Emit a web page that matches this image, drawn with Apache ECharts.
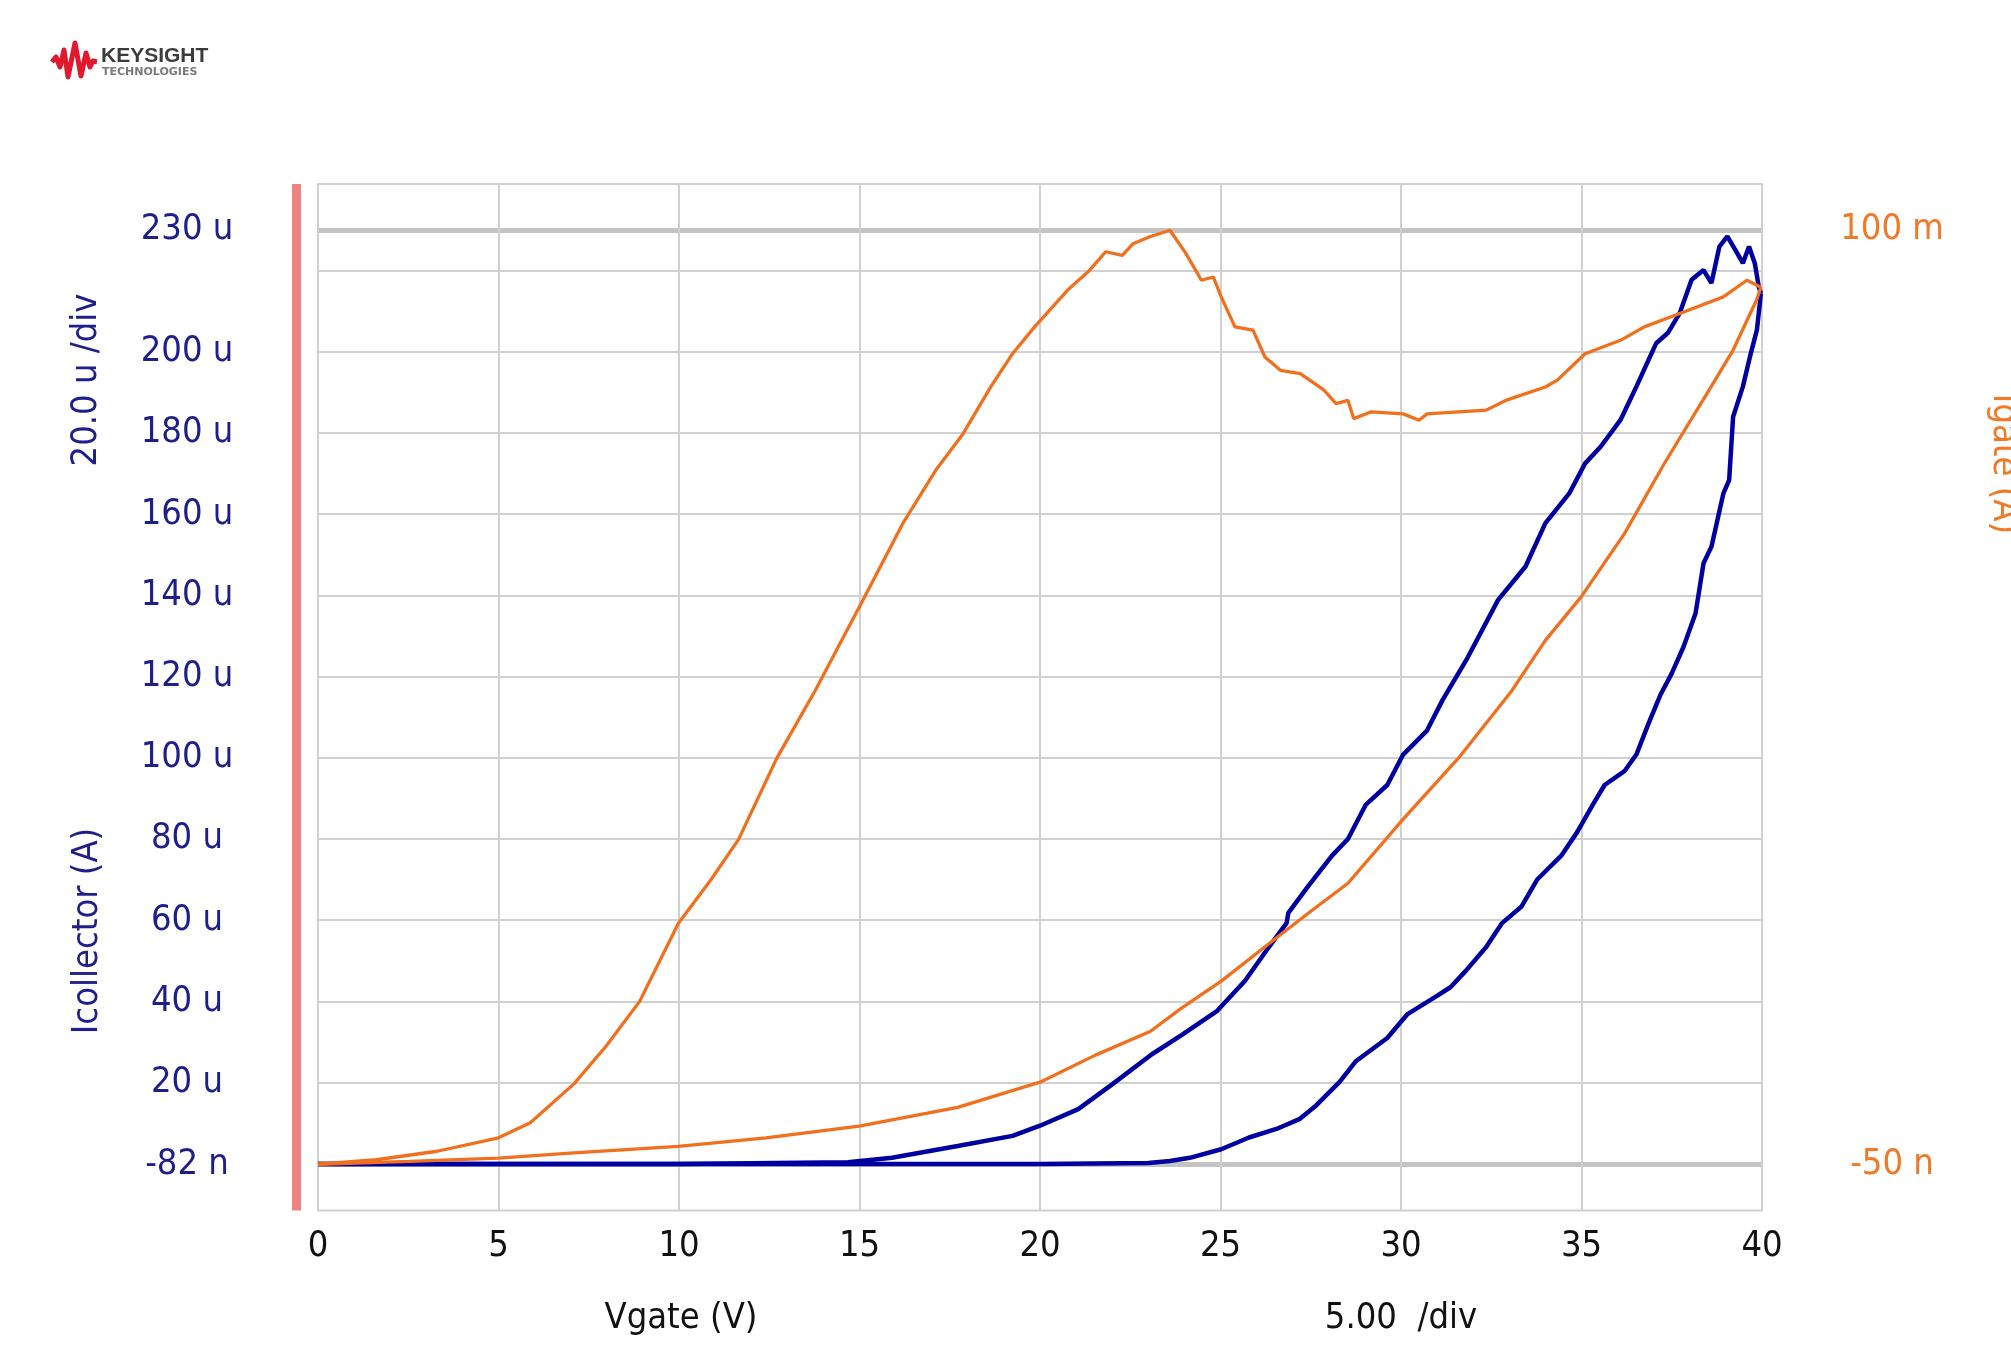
<!DOCTYPE html>
<html><head><meta charset="utf-8">
<script src="https://cdn.jsdelivr.net/npm/echarts@6/dist/echarts.min.js"></script>
<style>html,body{margin:0;padding:0;background:#fff}#c{width:2011px;height:1345px}</style>
</head><body><div id="c"></div>
<script>
// ---- Data (Vgate in V, Icollector in uA, Igate in mA) ----
const vgateUp = [0, 5, 10, 15, 20, 23.0, 23.6, 24.15, 25.02, 25.79, 26.55, 27.2, 27.65, 28.3, 28.74, 29.62, 30.17, 30.93, 31.37, 31.8, 32.36, 32.8, 33.34, 33.78, 34.44, 34.88, 35.31, 35.64, 36.19, 36.52, 36.85, 37.18, 37.5, 37.83, 38.16, 38.38, 38.6, 38.93, 39.09, 39.2, 39.47, 39.69, 39.86, 39.97];
const icollectorUp = [0, 0, 0, 0, 0, 0.2, 0.7, 1.5, 3.6, 6.5, 8.6, 11.1, 14.4, 20.2, 25.2, 31.0, 36.8, 41.0, 43.5, 47.6, 53.4, 59.3, 63.4, 70.1, 75.9, 81.7, 88.4, 93.3, 96.7, 100.8, 108.3, 115.4, 120.8, 127.4, 135.6, 147.9, 152.0, 165.1, 168.4, 184.0, 191.4, 199.6, 205.4, 214.4];

const vgateDown = [39.97, 39.91, 39.8, 39.64, 39.47, 39.26, 39.04, 38.82, 38.6, 38.38, 38.05, 37.72, 37.39, 37.07, 36.52, 36.08, 35.53, 35.1, 34.66, 34.0, 33.45, 32.69, 31.81, 31.15, 30.72, 30.06, 29.62, 29.02, 28.53, 28.09, 27.43, 26.88, 26.83, 26.34, 25.68, 24.91, 23.93, 23.1, 21.97, 21.06, 20.0, 19.24, 17.72, 15.9, 14.68, 10, 5, 0];
const icollectorDown = [214.4, 216.0, 221.8, 225.9, 221.8, 225.1, 228.4, 225.9, 216.9, 220.1, 217.7, 209.5, 204.6, 202.1, 191.4, 183.2, 176.6, 172.5, 165.1, 157.8, 147.1, 138.9, 124.1, 114.2, 106.7, 100.8, 93.3, 88.4, 80.0, 75.9, 68.4, 61.8, 59.3, 53.4, 45.1, 37.7, 31.8, 27.0, 19.4, 13.5, 9.4, 6.9, 4.4, 1.5, 0.4, 0, 0, 0];

const vgateFwd = [0, 1.62, 3.3, 5.0, 5.88, 7.09, 8.0, 8.91, 9.98, 10.89, 11.65, 12.71, 13.77, 15.14, 16.2, 17.11, 17.87, 18.63, 19.24, 19.85, 20.76, 21.37, 21.82, 22.28, 22.58, 23.04, 23.6, 24.04, 24.47, 24.8, 25.02, 25.4, 25.9, 26.23, 26.66, 27.21, 27.87, 28.2, 28.53, 28.69, 29.18, 30.06, 30.5, 30.72, 32.36, 32.9, 34.0, 34.33, 35.1, 36.08, 36.74, 37.83, 38.93, 39.58, 39.97];
const igateFwd = [0, 0.48, 1.39, 2.83, 4.43, 8.6, 12.73, 17.43, 25.77, 30.47, 34.77, 43.46, 50.68, 60.72, 68.58, 74.27, 78.19, 83.18, 86.75, 89.62, 93.53, 95.66, 97.66, 97.27, 98.52, 99.26, 99.96, 97.48, 94.61, 94.96, 92.83, 89.62, 89.27, 86.4, 84.97, 84.62, 82.84, 81.4, 81.75, 79.8, 80.53, 80.31, 79.62, 80.31, 80.71, 81.75, 83.18, 83.92, 86.75, 88.18, 89.62, 91.22, 92.83, 94.61, 93.87];

const vgateRet = [39.97, 39.85, 39.2, 38.47, 37.29, 36.19, 34.99, 34.0, 33.07, 31.59, 30.06, 28.53, 27.43, 26.34, 25.02, 23.93, 23.05, 21.52, 20.0, 17.72, 14.99, 12.41, 9.98, 7.09, 5.0, 2.54, 0];
const igateRet = [93.87, 92.49, 87.14, 82.44, 74.97, 67.49, 60.72, 56.07, 50.68, 43.46, 36.94, 30.07, 26.86, 23.6, 19.6, 16.73, 14.21, 11.65, 8.78, 6.08, 4.09, 2.82, 1.91, 1.22, 0.65, 0.3, 0];

const xTickValues = [0, 5, 10, 15, 20, 25, 30, 35, 40];
const leftTickValues = [-0.082, 20, 40, 60, 80, 100, 120, 140, 160, 180, 200, 230];
const leftTickLabels = ['-82 n', '20 u', '40 u', '60 u', '80 u', '100 u', '120 u', '140 u', '160 u', '180 u', '200 u', '230 u'];
const leftGridValues = [20, 40, 60, 80, 100, 120, 140, 160, 180, 200, 220];
const rightTickValues = [-0.00005, 100];
const rightTickLabels = ['-50 n', '100 m'];

// ---- Axis config ----
const leftMin = -11.5, leftMax = 241.3;
const lFirst = leftTickValues[0], lLast = leftTickValues[leftTickValues.length - 1];
const toRight = v => (v - lFirst) * (rightTickValues[1] - rightTickValues[0]) / (lLast - lFirst) + rightTickValues[0];
const rightMin = toRight(leftMin), rightMax = toRight(leftMax);

function pickLabel(vals, labels) {
  return function (v) {
    let best = 0, d = Infinity;
    for (let i = 0; i < vals.length; i++) { const dd = Math.abs(vals[i] - v); if (dd < d) { d = dd; best = i; } }
    return labels[best];
  };
}
const zip = (a, b) => a.map((x, i) => [x, b[i]]);

const FONT = "'Liberation Sans Narrow','DejaVu Sans Condensed','DejaVu Sans',sans-serif";
const BLUE_TXT = '#1e1e8c', ORANGE_TXT = '#f07a28';
const BLUE = '#0000a2', ORANGE = '#f0701e';

const chart = echarts.init(document.getElementById('c'), null, { renderer: 'canvas' });
chart.setOption({
  animation: false,
  backgroundColor: '#ffffff',
  grid: { left: 318, top: 184, width: 1444, height: 1026.6, show: true, borderColor: '#d0d0d0', borderWidth: 2 },
  xAxis: {
    type: 'value', min: xTickValues[0], max: xTickValues[xTickValues.length - 1], interval: 5,
    axisLine: { show: false }, axisTick: { show: false },
    axisLabel: { color: '#111', fontSize: 36, fontFamily: FONT, margin: 18, showMinLabel: true, showMaxLabel: true },
    splitLine: { show: true, lineStyle: { color: '#d0d0d0', width: 2 } }
  },
  yAxis: [
    {
      type: 'value', min: leftMin, max: leftMax, position: 'left',
      axisLine: { show: false },
      axisTick: { show: false, customValues: leftGridValues },
      axisLabel: { customValues: leftTickValues, formatter: pickLabel(leftTickValues, leftTickLabels), color: BLUE_TXT, fontSize: 36, fontFamily: FONT, margin: 131, align: 'center' },
      splitLine: { show: true, lineStyle: { color: '#d0d0d0', width: 2 } }
    },
    {
      type: 'value', min: rightMin, max: rightMax, position: 'right',
      axisLine: { show: false },
      axisTick: { show: false, customValues: rightTickValues },
      axisLabel: { customValues: rightTickValues, formatter: pickLabel(rightTickValues, rightTickLabels), color: ORANGE_TXT, fontSize: 36, fontFamily: FONT, margin: 130, align: 'center' },
      splitLine: { show: false }
    },
    {
      type: 'value', min: leftMin, max: leftMax, position: 'left', offset: 21.5,
      axisLine: { show: true, lineStyle: { color: '#ee8282', width: 9, cap: 'butt' } },
      axisTick: { show: false, customValues: [lFirst, lLast] },
      axisLabel: { show: false },
      splitLine: { show: true, lineStyle: { color: '#c4c4c4', width: 5 } }
    }
  ],
  series: [
    { name: 'Icollector up', type: 'line', yAxisIndex: 0, data: zip(vgateUp, icollectorUp), showSymbol: false, lineStyle: { color: BLUE, width: 4.5 }, z: 3 },
    { name: 'Icollector down', type: 'line', yAxisIndex: 0, data: zip(vgateDown, icollectorDown), showSymbol: false, lineStyle: { color: BLUE, width: 4.5 }, z: 3 },
    { name: 'Igate fwd', type: 'line', yAxisIndex: 1, data: zip(vgateFwd, igateFwd), showSymbol: false, lineStyle: { color: ORANGE, width: 3.3 }, z: 4 },
    { name: 'Igate ret', type: 'line', yAxisIndex: 1, data: zip(vgateRet, igateRet), showSymbol: false, lineStyle: { color: ORANGE, width: 3.3 }, z: 4 }
  ],
  graphic: [
    { type: 'text', x: 87, y: 380, rotation: Math.PI / 2, style: { text: '20.0 u /div', fill: BLUE_TXT, font: '36px ' + FONT, textAlign: 'center', textVerticalAlign: 'middle' } },
    { type: 'text', x: 88, y: 931, rotation: Math.PI / 2, style: { text: 'Icollector (A)', fill: BLUE_TXT, font: '36px ' + FONT, textAlign: 'center', textVerticalAlign: 'middle' } },
    { type: 'text', x: 2003, y: 464, rotation: -Math.PI / 2, style: { text: 'Igate (A)', fill: ORANGE_TXT, font: '36px ' + FONT, textAlign: 'center', textVerticalAlign: 'middle' } },
    { type: 'text', x: 681, y: 1319, style: { text: 'Vgate (V)', fill: '#111', font: '36px ' + FONT, textAlign: 'center', textVerticalAlign: 'middle' } },
    { type: 'text', x: 1401, y: 1319, style: { text: '5.00  /div', fill: '#111', font: '36px ' + FONT, textAlign: 'center', textVerticalAlign: 'middle' } },
    { type: 'polyline', shape: { points: [[52, 62], [56, 57], [60, 67], [64, 50], [68, 77], [75, 43], [81, 76], [86, 53], [90, 67], [93, 61], [97, 62]] }, style: { stroke: '#e0192e', lineWidth: 5, fill: null, lineJoin: 'round' } },
    { type: 'text', x: 101, y: 56, style: { text: 'KEYSIGHT', fill: '#3c3c3c', font: 'bold 21px "Liberation Sans", Arial, sans-serif', textAlign: 'left', textVerticalAlign: 'middle' } },
    { type: 'text', x: 102, y: 72, style: { text: 'TECHNOLOGIES', fill: '#7a7a7a', font: 'bold 11px "DejaVu Sans", sans-serif', textAlign: 'left', textVerticalAlign: 'middle' } }
  ]
});
</script></body></html>
